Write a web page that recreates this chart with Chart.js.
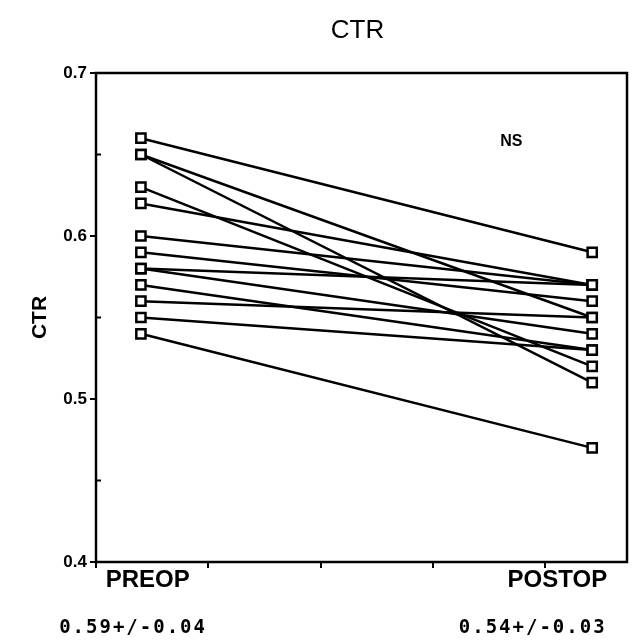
<!DOCTYPE html>
<html>
<head>
<meta charset="utf-8">
<script src="https://cdn.jsdelivr.net/npm/chart.js@4.4.0/dist/chart.umd.min.js"></script>
<style>
  body { margin: 0; background: #fff; }
  #wrap { width: 640px; height: 643px; }
</style>
</head>
<body>
<div id="wrap"><canvas id="myChart" width="640" height="643"></canvas></div>
<script>
// values, one pair per patient
preop = [0.66, 0.65, 0.65, 0.63, 0.62, 0.60, 0.59, 0.58, 0.58, 0.57, 0.56, 0.55, 0.54];
postop = [0.59, 0.55, 0.51, 0.52, 0.57, 0.57, 0.56, 0.57, 0.54, 0.53, 0.55, 0.53, 0.47];
groupLabels = ["PREOP", "POSTOP"];
groupStats = ["0.59+/-0.04", "0.54+/-0.03"];
yTicks = [0.4, 0.5, 0.6, 0.7];
minorTicks = [0.45, 0.55, 0.65];
chartTitle = "CTR";
axisTitle = "CTR";
sigLabel = "NS";

// where the two groups sit on the hidden x scale
PRE_X = 0.4;
POST_X = 4.42;

datasets = [];
for (i = 0; i < preop.length; i++) {
  datasets.push({
    data: [
      { x: PRE_X, y: preop[i] },
      { x: POST_X, y: postop[i] },
    ],
    showLine: true,
    fill: false,
    borderColor: "#000",
    borderWidth: 2.5,
    pointStyle: "rect",
    pointRadius: 6.5,
    pointBackgroundColor: "#fff",
    pointBorderColor: "#000",
    pointBorderWidth: 2.5,
  });
}

decor = {
  id: "decor",
  beforeDatasetsDraw: function (chart) {
    let ctx = chart.ctx;
    let a = chart.chartArea;
    let ys = chart.scales.y;
    ctx.save();
    ctx.strokeStyle = "#000";
    ctx.lineWidth = 2.5;
    ctx.strokeRect(a.left, a.top, a.right - a.left, a.bottom - a.top);
    ctx.lineWidth = 2;
    for (let v of minorTicks) {
      let py = ys.getPixelForValue(v);
      ctx.beginPath();
      ctx.moveTo(a.left, py);
      ctx.lineTo(a.left + 5, py);
      ctx.stroke();
    }
    ctx.restore();
  },
  afterDraw: function (chart) {
    let ctx = chart.ctx;
    let a = chart.chartArea;
    let xs = chart.scales.x;
    let ys = chart.scales.y;
    ctx.save();
    ctx.fillStyle = "#000";
    ctx.textAlign = "center";
    ctx.textBaseline = "middle";

    ctx.font = "26px 'Liberation Sans', Arial, sans-serif";
    ctx.fillText(chartTitle, (a.left + a.right) / 2 - 4, 31);

    ctx.font = "bold 16px 'Liberation Sans', Arial, sans-serif";
    ctx.fillText(sigLabel, xs.getPixelForValue(3.7), ys.getPixelForValue(0.658));

    ctx.save();
    ctx.translate(40, (a.top + a.bottom) / 2);
    ctx.rotate(-Math.PI / 2);
    ctx.font = "bold 21px 'Liberation Sans', Arial, sans-serif";
    ctx.fillText(axisTitle, 0, 0);
    ctx.restore();

    let labelX = [0.46, 4.11];
    let statX = [0.33, 3.89];
    ctx.font = "bold 24px 'Liberation Sans', Arial, sans-serif";
    for (let k = 0; k < groupLabels.length; k++) {
      ctx.fillText(groupLabels[k], xs.getPixelForValue(labelX[k]), a.bottom + 18);
    }
    ctx.font = "bold 19px 'DejaVu Sans Mono', monospace";
    ctx.letterSpacing = "2px";
    for (let k = 0; k < groupStats.length; k++) {
      ctx.fillText(groupStats[k], xs.getPixelForValue(statX[k]), a.bottom + 66);
    }
    ctx.restore();
  },
};

config = {
  type: "scatter",
  data: { datasets: datasets },
  options: {
    responsive: false,
    animation: false,
    layout: { padding: { top: 73, left: 20, right: 13, bottom: 71 } },
    plugins: {
      legend: { display: false },
      tooltip: { enabled: false },
    },
    scales: {
      x: {
        type: "linear",
        min: 0,
        max: 4.73,
        ticks: { stepSize: 1, display: false, includeBounds: false },
        grid: {
          drawOnChartArea: false,
          drawTicks: true,
          tickLength: 6,
          color: "#000",
          lineWidth: 2,
        },
        border: { display: false },
        afterFit: function (s) {
          s.height = 10;
        },
      },
      y: {
        min: 0.4,
        max: 0.7,
        afterBuildTicks: function (s) {
          s.ticks = yTicks.map(function (v) {
            return { value: v };
          });
        },
        ticks: {
          color: "#000",
          padding: 3,
          font: { family: "'Liberation Sans', Arial, sans-serif", size: 17, weight: "bold" },
          callback: function (v) {
            return v.toFixed(1);
          },
        },
        grid: {
          drawOnChartArea: false,
          drawTicks: true,
          tickLength: 6,
          color: "#000",
          lineWidth: 2,
        },
        border: { display: false },
        afterFit: function (s) {
          s.width = 76;
        },
      },
    },
  },
  plugins: [decor],
};

myChart = new Chart(document.getElementById("myChart"), config);
</script>
</body>
</html>
